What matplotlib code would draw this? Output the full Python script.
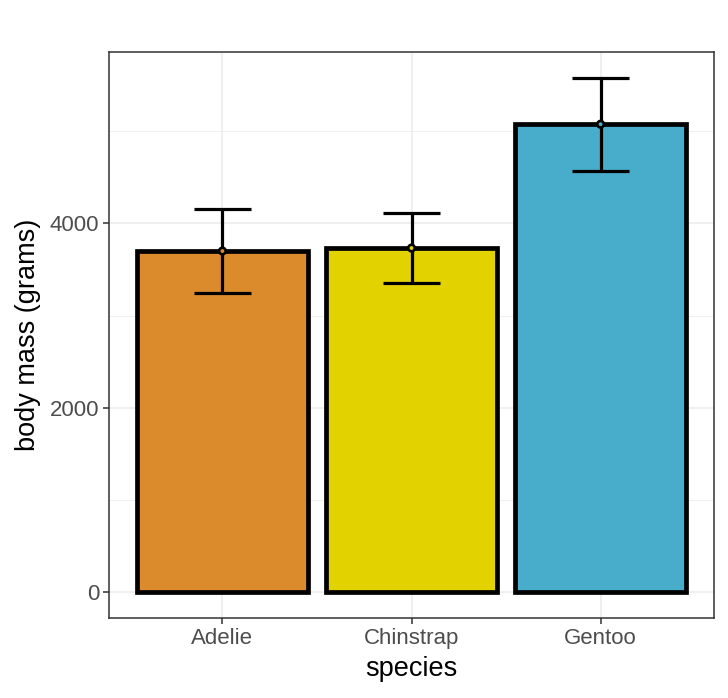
import matplotlib
matplotlib.use("Agg")
import matplotlib.pyplot as plt
from matplotlib.ticker import MultipleLocator

plt.rcParams["font.family"] = ["Liberation Sans", "DejaVu Sans"]

species = ["Adelie", "Chinstrap", "Gentoo"]
mean_mass = [3700.66, 3733.09, 5076.02]
sd_mass = [458.57, 384.34, 504.12]
bar_colors = ["#DB8B2B", "#E1D200", "#48ACCB"]

fig = plt.figure(figsize=(7.28, 6.98), dpi=100)
ax = fig.add_axes([0.1497, 0.1146, 0.8311, 0.8109])

x = list(range(1, len(species) + 1))
ax.bar(x, mean_mass, width=0.9, color=bar_colors, edgecolor="black",
       linewidth=3.4, zorder=3)
ax.errorbar(x, mean_mass, yerr=sd_mass, fmt="none", ecolor="black",
            elinewidth=2.3, capsize=0, zorder=4)
# caps drawn as short horizontal lines, width 0.3
for xi, m, s in zip(x, mean_mass, sd_mass):
    ax.hlines([m - s, m + s], xi - 0.15, xi + 0.15, color="black",
              linewidth=2.3, zorder=4)
# open circle at the mean, bar colour shows through
ax.scatter(x, mean_mass, s=22, facecolors=bar_colors, edgecolors="black",
           linewidths=1.9, zorder=5)

top = max(m + s for m, s in zip(mean_mass, sd_mass))
pad = top * 0.05
ax.set_ylim(-pad, top + pad)
ax.set_xlim(0.4, 3.6)

ax.set_xticks(x)
ax.set_xticklabels(species)
ax.set_yticks([0, 2000, 4000])
ax.yaxis.set_minor_locator(MultipleLocator(1000))
ax.xaxis.set_minor_locator(matplotlib.ticker.NullLocator())

ax.grid(True, which="major", color="#EBEBEB", linewidth=1.1, zorder=0)
ax.grid(True, which="minor", axis="y", color="#EBEBEB", linewidth=0.55, zorder=0)
ax.set_axisbelow(True)

ax.tick_params(axis="both", which="major", length=4, width=1.1, color="#333333",
               labelcolor="#4D4D4D", labelsize=16, pad=3)
ax.tick_params(axis="y", which="minor", length=0)
for sp in ax.spines.values():
    sp.set_color("#333333")
    sp.set_linewidth(1.1)

ax.set_xlabel("species", fontsize=19.5, labelpad=5)
ax.set_ylabel("body mass (grams)", fontsize=19.5, labelpad=6)

fig.savefig("out.png", dpi=100)
